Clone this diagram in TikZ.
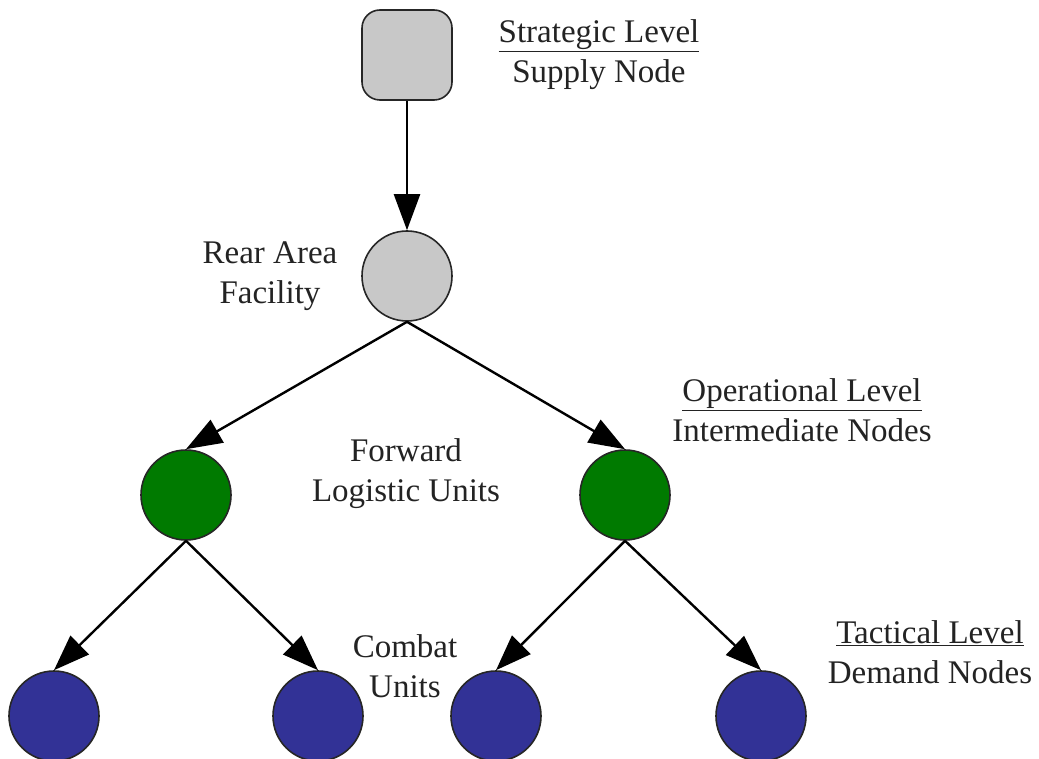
\documentclass[tikz,border=0pt]{standalone}
\usepackage{fontspec}
\setmainfont{Liberation Serif}
\usetikzlibrary{arrows.meta}
\definecolor{graynode}{RGB}{200,200,200}
\definecolor{greennode}{RGB}{0,122,0}
\definecolor{bluenode}{RGB}{50,50,150}
\definecolor{txt}{RGB}{35,35,35}
\tikzset{
  base/.style={draw=black!85, line width=1.6pt, inner sep=0pt, minimum size=90pt},
  supply/.style={base, rectangle, rounded corners=18pt, fill=graynode},
  rear/.style={base, circle, fill=graynode},
  fwd/.style={base, circle, fill=greennode},
  cmb/.style={base, circle, fill=bluenode},
  lbl/.style={text=txt, align=center, font=\fontsize{33}{40}\selectfont},
  conn/.style={line width=2.4pt, -{Triangle[length=36pt,width=26pt]}}
}
\begin{document}
\begin{tikzpicture}[x=1pt,y=-1pt]
\useasboundingbox[fill=white] (0,0) rectangle (1039,759);
\node[supply] (s) at (407,55) {};
\node[rear] (r) at (407,276) {};
\node[fwd] (f1) at (186,495) {};
\node[fwd] (f2) at (625,495) {};
\node[cmb] (c1) at (54,716) {};
\node[cmb] (c2) at (318,716) {};
\node[cmb] (c3) at (496,716) {};
\node[cmb] (c4) at (761,716) {};
\draw[conn] (s) -- (r);
\draw[conn] (r.south) -- (f1.north);
\draw[conn] (r.south) -- (f2.north);
\draw[conn] (f1.south) -- (c1.north);
\draw[conn] (f1.south) -- (c2.north);
\draw[conn] (f2.south) -- (c3.north);
\draw[conn] (f2.south) -- (c4.north);
\node[lbl] (t1) at (599,55) {\underline{Strategic Level}\\Supply Node};
\node[lbl] (t2) at (270,276) {Rear Area\\Facility};
\node[lbl] (t3) at (802,410) {\underline{Operational Level}\\Intermediate Nodes};
\node[lbl] (t4) at (406,474) {Forward\\Logistic Units};
\node[lbl] (t5) at (405,666) {Combat\\Units};
\node[lbl] (t6) at (930,652) {\underline{Tactical Level}\\Demand Nodes};
\end{tikzpicture}
\end{document}
